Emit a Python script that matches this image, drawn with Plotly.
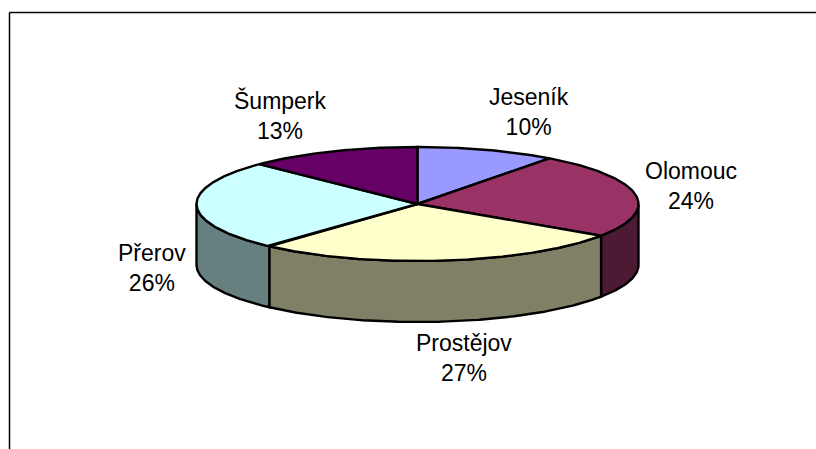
import math
import numpy as np
import plotly.graph_objects as go

regions = ["Jeseník", "Olomouc", "Prostějov", "Přerov", "Šumperk"]
shares = [10.2, 24.2, 27.3, 25.6, 12.7]
top_colors = ["#9999FF", "#993366", "#FFFFCC", "#CCFFFF", "#660066"]
side_colors = ["#4D4D80", "#4D1A33", "#808066", "#668080", "#330033"]
label_xy = [(529, 112), (691, 186), (464, 358), (152, 268), (280, 115)]

CX, CY, RX, RY, DEPTH = 417.5, 204, 221, 57, 61
EDGE = 2.4


def pt(frac, drop=0.0):
    a = 2 * math.pi * frac
    return CX + RX * math.sin(a), CY - RY * math.cos(a) + drop


def arc(f0, f1, drop=0.0):
    n = max(2, int(abs(f1 - f0) * 720))
    return [pt(f, drop) for f in np.linspace(f0, f1, n)]


fig = go.Figure()
edges = np.concatenate([[0], np.cumsum(shares)]) / sum(shares)

# side walls (only the front half of the rim, 0.25..0.75, is visible)
for i in range(len(regions)):
    f0, f1 = max(edges[i], 0.25), min(edges[i + 1], 0.75)
    if f1 <= f0:
        continue
    poly = arc(f0, f1) + arc(f1, f0, DEPTH)
    poly.append(poly[0])
    fig.add_trace(go.Scatter(x=[p[0] for p in poly], y=[p[1] for p in poly], mode="lines",
                             fill="toself", fillcolor=side_colors[i],
                             line=dict(color="black", width=EDGE), hoverinfo="skip", showlegend=False))

# top wedges
for i in range(len(regions)):
    poly = [(CX, CY)] + arc(edges[i], edges[i + 1]) + [(CX, CY)]
    fig.add_trace(go.Scatter(x=[p[0] for p in poly], y=[p[1] for p in poly], mode="lines",
                             fill="toself", fillcolor=top_colors[i],
                             line=dict(color="black", width=EDGE), hoverinfo="skip", showlegend=False))

for name, share, (lx, ly) in zip(regions, shares, label_xy):
    fig.add_annotation(x=lx, y=ly, text=f"{name}<br>{round(share)}%", showarrow=False,
                       font=dict(family="Liberation Sans", size=23, color="black"),
                       align="center", xanchor="center", yanchor="middle")

# chart frame
fig.add_shape(type="line", x0=9.5, y0=12.5, x1=9.5, y1=449, line=dict(color="black", width=1.5))
fig.add_shape(type="line", x0=9.5, y0=12.5, x1=816, y1=12.5, line=dict(color="black", width=1.5))

fig.update_layout(
    width=816, height=449, margin=dict(l=0, r=0, t=0, b=0),
    paper_bgcolor="white", plot_bgcolor="white", showlegend=False,
    xaxis=dict(range=[0, 816], visible=False, fixedrange=True),
    yaxis=dict(range=[449, 0], visible=False, fixedrange=True),
)
fig.write_html("out.html", config={"displayModeBar": False},
               default_width="816px", default_height="449px",
               post_script="document.body.style.margin='0';document.documentElement.style.overflow='hidden';")
